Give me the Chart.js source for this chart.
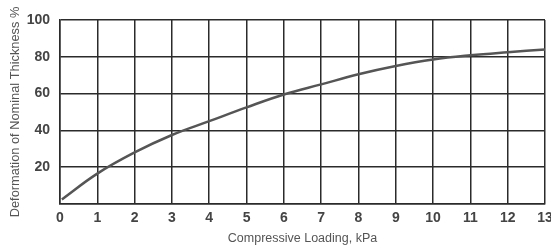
<!DOCTYPE html>
<html>
<head>
<meta charset="utf-8">
<script src="https://cdn.jsdelivr.net/npm/chart.js@4/dist/chart.umd.min.js"></script>
<style>
  html,body{margin:0;padding:0;background:#fff;}
  #wrap{width:551px;height:250px;position:relative;}
</style>
</head>
<body>
<div id="wrap"><canvas id="c"></canvas></div>
<script>
const loading = [0.05, 1, 2, 3, 4, 5, 6, 7, 8, 9, 10, 11, 12, 13];
const deformation = [2.5, 16.5, 28, 37.5, 45, 52.5, 59.5, 65, 70.5, 75, 78.5, 80.8, 82.5, 84];
const xTitle = 'Compressive Loading, kPa';
const yTitle = 'Deformation of Nominal Thickness %';

const narrow = "'Liberation Sans Narrow', 'Liberation Sans', Arial, sans-serif";
const gridCol = '#2b2b2b';

new Chart(document.getElementById('c'), {
  type: 'line',
  data: {
    datasets: [{
      data: loading.map((x, i) => ({ x, y: deformation[i] })),
      borderColor: '#555',
      borderWidth: 2.5,
      tension: 0.4,
      pointRadius: 0,
      fill: false
    }]
  },
  options: {
    responsive: true,
    maintainAspectRatio: false,
    animation: false,
    layout: { padding: { left: 4, right: 0, top: 20, bottom: 0 } },
    plugins: { legend: { display: false }, tooltip: { enabled: false } },
    scales: {
      x: {
        type: 'linear', min: 0, max: 13,
        afterFit: s => { s.height = 46; s.paddingRight = 6; },
        ticks: { stepSize: 1, padding: 6, color: '#444', font: { family: narrow, size: 14, weight: 'bold' } },
        grid: { color: gridCol, lineWidth: 1.5, drawTicks: false },
        border: { color: gridCol, width: 1.5 },
        title: { display: true, text: xTitle, color: '#555', padding: { top: 0, bottom: 4 }, font: { family: narrow, size: 12.5 } }
      },
      y: {
        min: 0, max: 100,
        afterFit: s => { s.width = 56; },
        ticks: { stepSize: 20, padding: 10, color: '#444', font: { family: narrow, size: 14, weight: 'bold' },
          callback: v => v === 0 ? '' : v },
        grid: { color: gridCol, lineWidth: 1.5, drawTicks: false },
        border: { color: gridCol, width: 1.5 },
        title: { display: true, text: yTitle, color: '#555', padding: { top: 4, bottom: 0 }, font: { family: narrow, size: 12.8 } }
      }
    }
  }
});
</script>
</body>
</html>
